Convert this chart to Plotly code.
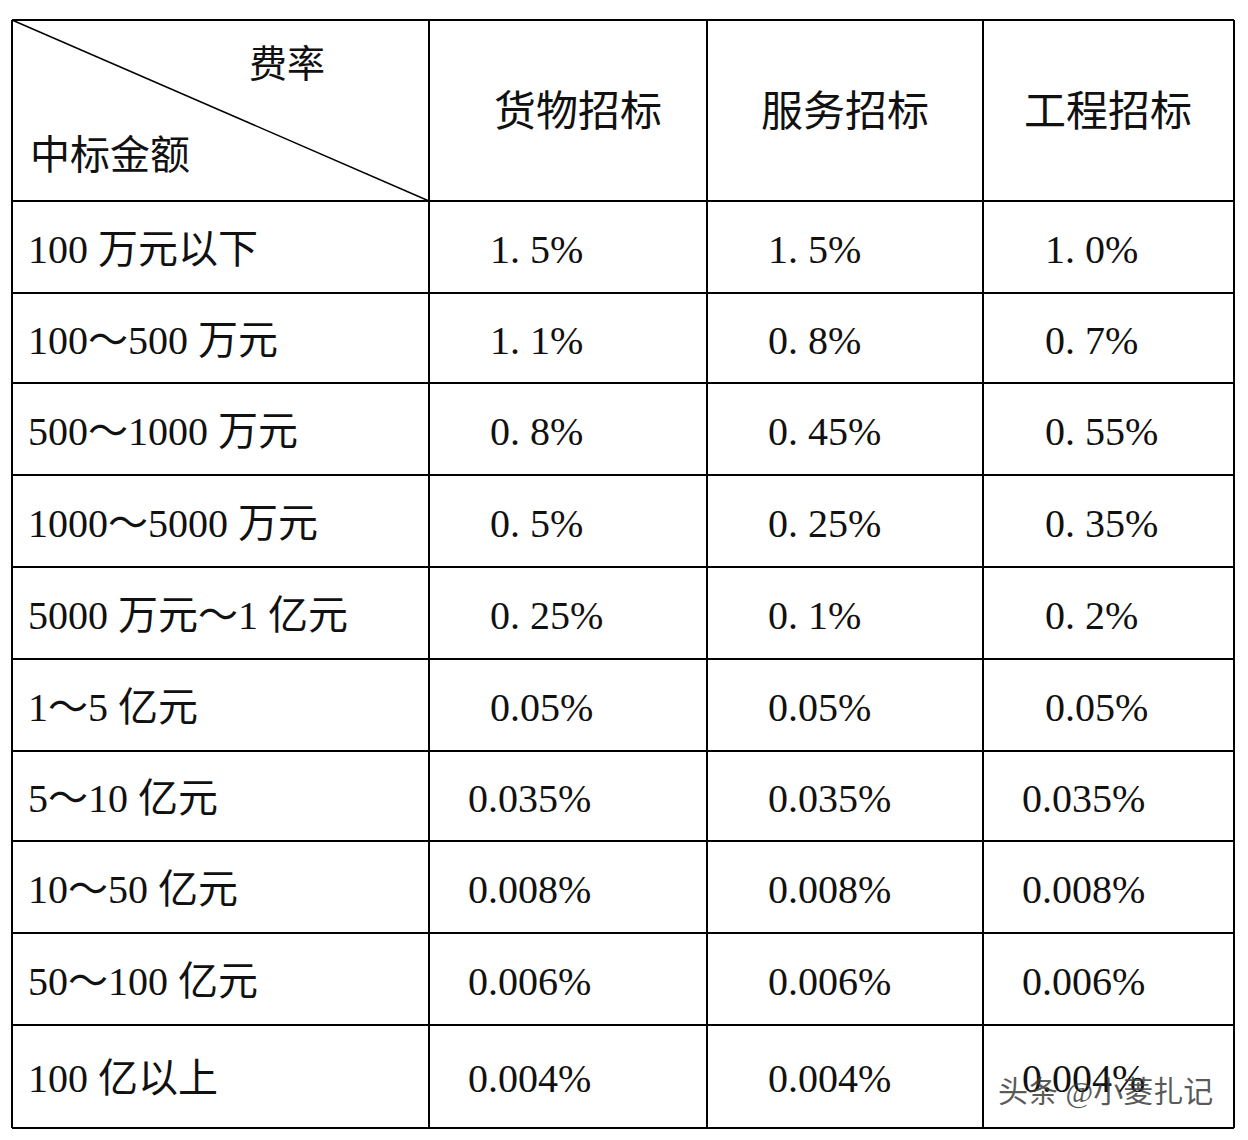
import plotly.graph_objects as go

corner_top = "费率"
corner_bottom = "中标金额"
columns = ["货物招标", "服务招标", "工程招标"]
ranges = ["100 万元以下", "100～500 万元", "500～1000 万元", "1000～5000 万元",
          "5000 万元～1 亿元", "1～5 亿元", "5～10 亿元", "10～50 亿元",
          "50～100 亿元", "100 亿以上"]
goods = ["1. 5%", "1. 1%", "0. 8%", "0. 5%", "0. 25%", "0.05%", "0.035%", "0.008%", "0.006%", "0.004%"]
service = ["1. 5%", "0. 8%", "0. 45%", "0. 25%", "0. 1%", "0.05%", "0.035%", "0.008%", "0.006%", "0.004%"]
project = ["1. 0%", "0. 7%", "0. 55%", "0. 35%", "0. 2%", "0.05%", "0.035%", "0.008%", "0.006%", "0.004%"]
watermark = "头条 @小菱扎记"

xb = [12, 429, 707, 983, 1234]
yb = [20, 201, 293, 383, 475, 567, 659, 751, 841, 933, 1025, 1128]
FONT = "Liberation Serif, Noto Sans CJK SC"

fig = go.Figure()
shapes = []
for x in xb:
    shapes.append(dict(type="line", x0=x, x1=x, y0=yb[0], y1=yb[-1], line=dict(color="black", width=2)))
for y in yb:
    shapes.append(dict(type="line", x0=xb[0], x1=xb[-1], y0=y, y1=y, line=dict(color="black", width=2)))
shapes.append(dict(type="line", x0=xb[0], y0=yb[0], x1=xb[1], y1=yb[1], line=dict(color="black", width=1.5)))

ann = []
def t(x, y, s, anchor="left", size=40, color="#111"):
    ann.append(dict(x=x, y=y, text=s, showarrow=False, xanchor=anchor, yanchor="middle",
                    font=dict(family=FONT, size=size, color=color)))

t(287, 64, corner_top, "center", 38)
t(28, 155, corner_bottom, "left", 40)
hx = [578, 845, 1108]
for i, c in enumerate(columns):
    t(hx[i], 112, c, "center", 42)

for r, name in enumerate(ranges):
    yc = (yb[r + 1] + yb[r + 2]) / 2 + 2
    t(26, yc, name)
    lefts = [488, 766, 1043] if r < 6 else [466, 766, 1020]
    for j, col in enumerate([goods, service, project]):
        t(lefts[j], yc, col[r])

t(1105, 1092, watermark, "center", 30, "rgba(60,60,60,0.85)")

fig.update_layout(width=1232, height=1124, margin=dict(l=0, r=0, t=0, b=0),
                  paper_bgcolor="white", plot_bgcolor="white",
                  shapes=shapes, annotations=ann,
                  xaxis=dict(range=[8, 1240], visible=False, fixedrange=True),
                  yaxis=dict(range=[1132, 8], visible=False, fixedrange=True),
                  showlegend=False)
fig.write_html("out.html")
